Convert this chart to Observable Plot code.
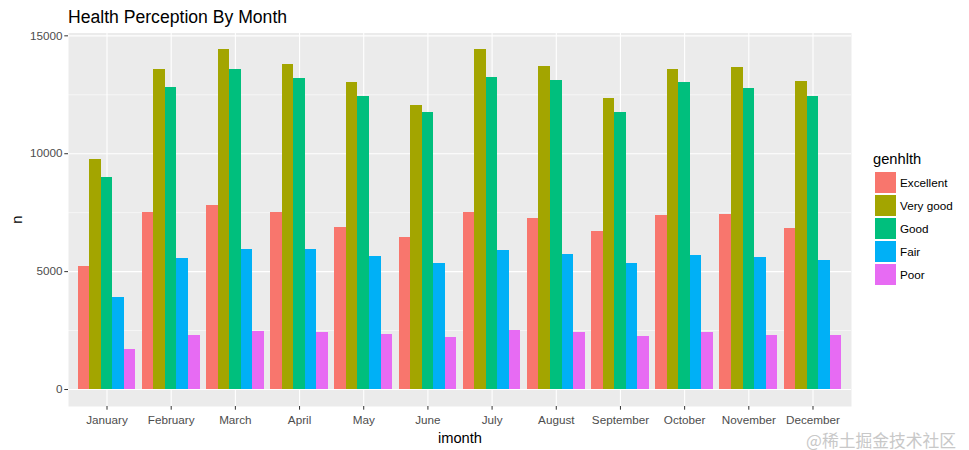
<!DOCTYPE html>
<html>
<head>
<meta charset="utf-8">
<script src="https://cdn.jsdelivr.net/npm/d3@7"></script>
<script src="https://cdn.jsdelivr.net/npm/@observablehq/plot@0.6"></script>
<style>
  body { margin: 0; background: #fff; font-family: "Liberation Sans", Arial, sans-serif; }
  #wrap { position: relative; width: 969px; height: 450px; overflow: hidden; }
  #title { box-sizing: border-box; height: 28px; padding: 6.5px 0 0 68px; font-size: 17.6px; line-height: 20px; color: #000; white-space: nowrap; }
  #legend { position: absolute; left: 873px; top: 0; }
  .lg-title { position: absolute; left: 0; top: 150px; font-size: 14.7px; line-height: 18px; white-space: nowrap; }
  .lg-key { position: absolute; left: 2px; width: 21px; height: 21px; }
  .lg-lab { position: absolute; left: 27px; font-size: 11.7px; line-height: 21px; white-space: nowrap; color: #000; }
  #wm { position: absolute; left: 806px; top: 431.5px; font-family: "Noto Sans CJK SC", sans-serif; font-size: 16.8px; line-height: 16px; color: #c8c8c8; white-space: nowrap; }
</style>
</head>
<body>
<div id="wrap">
  <div id="title"></div>
  <div id="chart"></div>
  <div id="legend"></div>
  <div id="wm">@稀土掘金技术社区</div>
</div>
<script>
const titleText = "Health Perception By Month";
const months = ["January","February","March","April","May","June","July","August","September","October","November","December"];
const categories = ["Excellent","Very good","Good","Fair","Poor"];
const colors = ["#F8766D","#A3A500","#00BF7D","#00B0F6","#E76BF3"];

const excellent = [5220, 7510, 7810, 7500, 6880, 6450, 7510, 7260, 6700, 7390, 7430, 6840];
const veryGood  = [9760, 13590, 14400, 13790, 13040, 12060, 14400, 13710, 12360, 13590, 13670, 13080];
const good      = [9000, 12820, 13590, 13210, 12440, 11760, 13250, 13120, 11760, 13040, 12780, 12420];
const fair      = [3900, 5560, 5950, 5950, 5650, 5350, 5900, 5730, 5350, 5690, 5600, 5480];
const poor      = [1700, 2290, 2460, 2420, 2340, 2210, 2500, 2420, 2250, 2420, 2290, 2290];

const yTicks = [0, 5000, 10000, 15000];
const yMinor = [2500, 7500, 12500];

const series = [excellent, veryGood, good, fair, poor];
const rows = [];
months.forEach((m, i) => {
  categories.forEach((c, k) => {
    rows.push({month: m, mi: i, genhlth: c, k: k, n: series[k][i]});
  });
});

// ggplot-like dodge: total width 0.9 per month, split among 5 categories
const dodgeW = 0.9 / categories.length;
const monthIdx = d3.range(months.length);

document.getElementById("title").textContent = titleText;

const chart = Plot.plot({
  width: 860,
  height: 422,
  marginTop: 4.5,
  marginBottom: 44,
  marginLeft: 68,
  marginRight: 9,
  style: { fontFamily: "'Liberation Sans', Arial, sans-serif", fontSize: "11.7px", background: "transparent" },
  x: { domain: [-0.6, months.length - 1 + 0.6], axis: null },
  y: { domain: [-720, 15120], axis: null },
  color: { domain: categories, range: colors },
  marks: [
    Plot.frame({ fill: "#EBEBEB", stroke: null }),
    Plot.ruleY(yMinor, { stroke: "#fff", strokeWidth: 0.55 }),
    Plot.ruleY(yTicks, { stroke: "#fff", strokeWidth: 1.1 }),
    Plot.ruleX(monthIdx, { stroke: "#fff", strokeWidth: 1.1 }),
    Plot.rectY(rows, {
      x1: d => d.mi - 0.45 + d.k * dodgeW,
      x2: d => d.mi - 0.45 + (d.k + 1) * dodgeW,
      y: "n",
      fill: "genhlth",
      shapeRendering: "crispEdges"
    }),
    Plot.axisY({
      ticks: yTicks, tickSize: 3.7, tickPadding: 2.2, tickFormat: d => String(d),
      color: "#4d4d4d", stroke: "#333", fontSize: 11.7,
      label: "n", labelAnchor: "center", labelArrow: "none", labelOffset: 57
    }),
    Plot.axisX({
      ticks: monthIdx, tickSize: 3.7, tickPadding: 5, tickFormat: i => months[i],
      color: "#4d4d4d", stroke: "#333", fontSize: 11.7,
      label: "imonth", labelAnchor: "center", labelArrow: "none", labelOffset: 36
    })
  ]
});
document.getElementById("chart").appendChild(chart);

// style axis labels (titles) black and larger
chart.querySelectorAll("g[aria-label='x-axis label'] text, g[aria-label='y-axis label'] text").forEach(t => {
  t.setAttribute("fill", "#000");
  t.style.fontSize = "14.7px";
});

// Legend
const lg = document.getElementById("legend");
const lt = document.createElement("div");
lt.className = "lg-title";
lt.textContent = "genhlth";
lg.appendChild(lt);
categories.forEach((c, k) => {
  const top = 172 + k * 23;
  const key = document.createElement("div");
  key.className = "lg-key";
  key.style.top = top + "px";
  key.style.background = colors[k];
  lg.appendChild(key);
  const lab = document.createElement("div");
  lab.className = "lg-lab";
  lab.style.top = top + "px";
  lab.textContent = c;
  lg.appendChild(lab);
});
</script>
</body>
</html>
